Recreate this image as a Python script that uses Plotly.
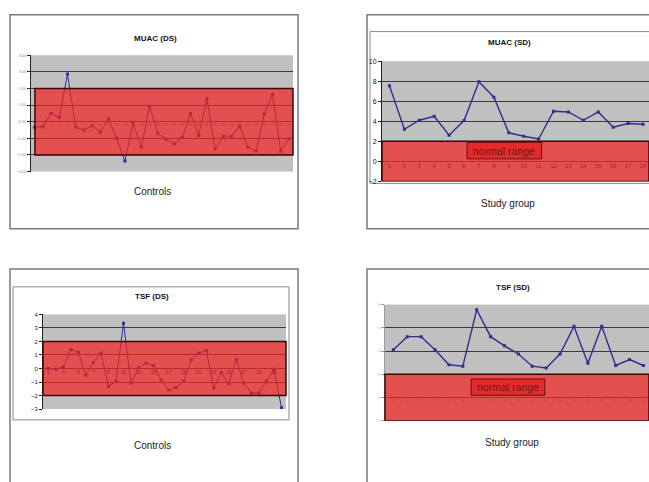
import plotly.graph_objects as go

W, H = 649, 482

# ---------------- data ----------------
muac_controls = [-0.33, -0.3, 0.5, 0.25, 2.87, -0.33, -0.5, -0.24, -0.63, 0.16, -1.0, -2.37,
                 -0.1, -1.54, 0.93, -0.7, -1.05, -1.35, -0.95, 0.5, -0.83, 1.39, -1.64, -0.87,
                 -0.87, -0.28, -1.54, -1.76, 0.46, 1.64, -1.78, -1.03]
muac_study = [7.55, 3.2, 4.1, 4.5, 2.6, 4.07, 7.95, 6.4, 2.85, 2.5, 2.23, 5.0, 4.93, 4.1,
              4.93, 3.4, 3.78, 3.7]
tsf_controls = [0.0, -0.05, 0.1, 1.4, 1.2, -0.5, 0.45, 1.15, -1.33, -0.97, 3.35, -1.1, 0.07,
                0.4, 0.2, -0.85, -1.6, -1.4, -0.92, 0.65, 1.13, 1.33, -1.45, -0.3, -1.15, 0.68,
                -1.1, -1.82, -1.82, -0.92, -0.05, -2.9]
tsf_study = [4.11, 5.24, 5.24, 4.11, 2.82, 2.7, 7.55, 5.24, 4.45, 3.75, 2.7, 2.54, 3.75, 6.14,
             2.96, 6.14, 2.76, 3.27, 2.76]

titles = ["MUAC (DS)", "MUAC (SD)", "TSF (DS)", "TSF (SD)"]
subtitles = ["Controls", "Study group", "Controls", "Study group"]
normal_label = "normal range"

y1_ticks = [4, 3, 2, 1, 0, -1, -2, -3]
y2_ticks = [10, 8, 6, 4, 2, 0, -2]
y3_ticks = [4, 3, 2, 1, 0, -1, -2, -3]
y4_ticks = [8, 6, 4, 2, 0, -2]
x3_ticks = list(range(1, 33, 2))

FONT = "Liberation Sans, Arial, sans-serif"
LINE = "#2e2e8f"
BAND = "rgba(240,36,36,0.72)"
BAND_EDGE = "#3a0808"


def px_x(p):
    return p / W


def px_y(p):
    return 1 - p / H


fig = go.Figure()

panels = [
    dict(data=muac_controls, x="x", y="y", xd=(31, 293), yd=(52, 170), xr=(0.55, 32.5), yr=(-3, 4),
         yt=y1_ticks, yfmt=".2f", yfs=4, ycol="#8a8a8a", xt=list(range(1, 33)), xfs=3,
         xcol="#a04040", lw=1),
    dict(data=muac_study, x="x2", y="y2", xd=(382, 649), yd=(58, 180), xr=(0.5, 18.4), yr=(-2, 10),
         yt=y2_ticks, yfmt="d", yfs=7, ycol="#111111", xt=list(range(1, 19)), xfs=6,
         xcol="#300000", lw=1.4),
    dict(data=tsf_controls, x="x3", y="y3", xd=(43, 286), yd=(315, 411), xr=(0.3, 32.6), yr=(-3, 4),
         yt=y3_ticks, yfmt="d", yfs=6, ycol="#222222", xt=x3_ticks, xfs=5,
         xcol="#300000", lw=1),
    dict(data=tsf_study, x="x4", y="y4", xd=(385, 649), yd=(305, 423), xr=(0.4, 19.4), yr=(-2, 8),
         yt=y4_ticks, yfmt="d", yfs=4, ycol="#b0b0b0", xt=list(range(1, 20)), xfs=3,
         xcol="#a04040", lw=1.4),
]

layout = dict(width=W, height=H, margin=dict(l=0, r=0, t=0, b=0),
              paper_bgcolor="white", plot_bgcolor="#c0c0c0", showlegend=False,
              font=dict(family=FONT))

shapes = []
annotations = []

frames = [(10, 11, 298, 228), (367, 11, 700, 228), (10, 269, 298, 520), (367, 269, 700, 520)]
for (a, b, c, d) in frames:
    shapes.append(dict(type="rect", xref="paper", yref="paper", x0=px_x(a), x1=px_x(c),
                       y0=px_y(d), y1=px_y(b), line=dict(color="#7a7a7a", width=1.5),
                       layer="below"))
for (a, b, c, d) in [(370, 28, 700, 182), (13, 287, 289, 422)]:
    shapes.append(dict(type="rect", xref="paper", yref="paper", x0=px_x(a), x1=px_x(c),
                       y0=px_y(d), y1=px_y(b), line=dict(color="#8a8a8a", width=1),
                       layer="below"))

for i, p in enumerate(panels):
    xs = list(range(1, len(p["data"]) + 1))
    fig.add_trace(go.Scatter(x=xs, y=p["data"], xaxis=p["x"], yaxis=p["y"],
                             mode="lines+markers", line=dict(color=LINE, width=p["lw"]),
                             marker=dict(size=3, symbol="square", color=LINE),
                             hoverinfo="skip"))
    xk = "xaxis" if p["x"] == "x" else "xaxis" + p["x"][1:]
    yk = "yaxis" if p["y"] == "y" else "yaxis" + p["y"][1:]
    ydom = (px_y(p["yd"][1]), px_y(p["yd"][0]))
    y0v, y1v = p["yr"]
    zero_pos = ydom[0] + (0 - y0v) / (y1v - y0v) * (ydom[1] - ydom[0])
    layout[xk] = dict(domain=[px_x(p["xd"][0]), px_x(p["xd"][1])], range=list(p["xr"]),
                      anchor="free", position=zero_pos, showgrid=False, zeroline=False,
                      showline=False, ticks="", tickvals=p["xt"], ticklen=0,
                      tickfont=dict(size=p["xfs"], color=p["xcol"], family=FONT))
    layout[yk] = dict(domain=list(ydom), range=list(p["yr"]), anchor=p["x"],
                      tickvals=p["yt"], tickformat=p["yfmt"], showgrid=True,
                      gridcolor="#3a3a3a", gridwidth=1, zeroline=False,
                      showline=True, linecolor="#222222" if i < 3 else "#999999", linewidth=1,
                      ticks="outside", ticklen=3, tickcolor="#222222" if i < 3 else "#999999",
                      tickfont=dict(size=p["yfs"], color=p["ycol"], family=FONT))
    shapes.append(dict(type="rect", xref=p["x"] + " domain", yref=p["y"],
                       x0=0.015 if i == 0 else 0, x1=1, y0=-2, y1=2, fillcolor=BAND,
                       line=dict(color=BAND_EDGE, width=1.5), layer="above"))

for (xa, ya, bx) in [("x2", "y2", (6.2, 11.2, 0.25, 1.9)), ("x4", "y4", (6.6, 11.9, 0.2, 1.6))]:
    shapes.append(dict(type="rect", xref=xa, yref=ya, x0=bx[0], x1=bx[1], y0=bx[2], y1=bx[3],
                       fillcolor="#e42a2a", line=dict(color="#6a1010", width=1), layer="above"))
    annotations.append(dict(xref=xa, yref=ya, x=(bx[0] + bx[1]) / 2, y=(bx[2] + bx[3]) / 2,
                            xanchor="center", yanchor="middle",
                            text=normal_label, showarrow=False,
                            font=dict(size=10.5, color="#7a1212", family=FONT)))

title_pos = [(155, 35), (510, 39), (152, 297), (513, 288)]
sub_pos = [(152, 190), (508, 202), (152, 448), (512, 445)]
for t, (tx, ty) in zip(titles, title_pos):
    annotations.append(dict(xref="paper", yref="paper", x=px_x(tx), y=px_y(ty),
                            xanchor="center", yanchor="middle",
                            text="<b>" + t + "</b>", showarrow=False,
                            font=dict(size=8, color="#111111", family=FONT)))
for t, (tx, ty) in zip(subtitles, sub_pos):
    annotations.append(dict(xref="paper", yref="paper", x=px_x(tx), y=px_y(ty), text=t,
                            xanchor="center", yanchor="middle",
                            showarrow=False, font=dict(size=10, color="#222222", family=FONT)))

layout["shapes"] = shapes
layout["annotations"] = annotations
fig.update_layout(**layout)
fig.write_html("out.html", config={"displayModeBar": False},
               post_script="document.body.style.margin='0';document.body.style.overflow='hidden';")
